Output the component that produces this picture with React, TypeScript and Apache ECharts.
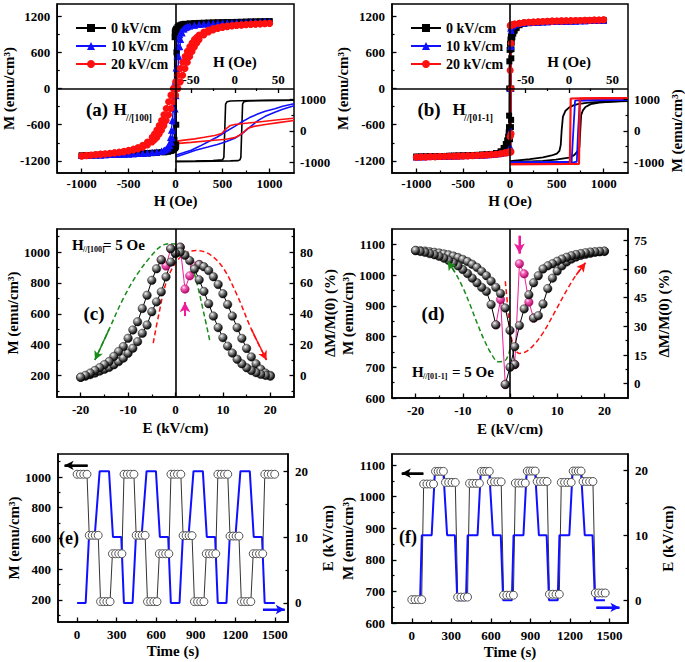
import React, { useEffect, useRef } from 'react';
import * as echarts from 'echarts';

const FONT = '"Liberation Serif", "Times New Roman", Times, serif';

// ---------------- (a) main loops: [H (Oe), M (emu/cm3)] ----------------
const aBlackUp = [[-1000,-1110],[-950,-1106],[-900,-1102],[-850,-1099],[-800,-1096],[-750,-1093],[-700,-1090],[-650,-1088],[-600,-1085],[-550,-1083],[-500,-1080],[-450,-1078],[-400,-1075],[-350,-1072],[-300,-1069],[-250,-1065],[-200,-1060],[-150,-1054],[-100,-1046],[-70,-1038],[-40,-1025],[-20,-1010],[-5,-990],[4,-965],[6,-930],[7,-600],[8,0],[9,600],[10.5,930],[15,985],[25,1025],[40,1045],[60,1058],[80,1066],[100,1072],[150,1079],[200,1084],[250,1087],[300,1090],[350,1092],[400,1094],[450,1096],[500,1098],[550,1100],[600,1102],[650,1104],[700,1105],[750,1107],[800,1109],[850,1110],[900,1112],[950,1113],[1000,1115]];
const aBlackDown = [[1000,1115],[950,1113],[900,1111],[850,1109],[800,1107],[750,1105],[700,1103],[650,1101],[600,1099],[550,1097],[500,1095],[450,1093],[400,1090],[350,1088],[300,1085],[250,1082],[200,1078],[150,1072],[100,1064],[70,1055],[40,1040],[20,1020],[5,990],[-5,962],[-9,930],[-10.5,850],[-11.5,0],[-12.5,-850],[-14,-940],[-20,-990],[-30,-1020],[-50,-1035],[-80,-1048],[-120,-1058],[-200,-1068],[-250,-1072],[-300,-1076],[-350,-1080],[-400,-1083],[-450,-1086],[-500,-1089],[-550,-1092],[-600,-1094],[-650,-1097],[-700,-1099],[-750,-1101],[-800,-1103],[-850,-1105],[-900,-1107],[-950,-1109],[-1000,-1110]];
const aBlueUp = [[-1000,-1110],[-950,-1108],[-900,-1105],[-850,-1103],[-800,-1100],[-750,-1098],[-700,-1095],[-650,-1093],[-600,-1090],[-550,-1088],[-500,-1085],[-450,-1082],[-400,-1078],[-350,-1073],[-300,-1068],[-250,-1060],[-200,-1050],[-150,-1035],[-120,-1020],[-100,-1005],[-80,-985],[-60,-950],[-45,-890],[-35,-820],[-25,-700],[-15,-540],[-5,-340],[5,-120],[15,110],[25,330],[35,530],[45,690],[55,810],[70,920],[90,985],[110,1015],[130,1030],[150,1040],[200,1053],[250,1062],[300,1068],[350,1073],[400,1077],[450,1081],[500,1084],[550,1087],[600,1090],[650,1093],[700,1095],[750,1098],[800,1100],[850,1103],[900,1105],[950,1108],[1000,1110]];
const aBlueDown = [[1000,1110],[950,1108],[900,1105],[850,1103],[800,1100],[750,1098],[700,1095],[650,1093],[600,1090],[550,1088],[500,1085],[450,1082],[400,1078],[350,1073],[300,1068],[250,1060],[200,1050],[150,1035],[120,1020],[100,1005],[80,985],[60,950],[45,890],[35,820],[25,700],[15,540],[5,340],[-5,120],[-15,-110],[-25,-330],[-35,-530],[-45,-690],[-55,-810],[-70,-920],[-90,-985],[-110,-1015],[-130,-1030],[-150,-1040],[-200,-1053],[-250,-1062],[-300,-1068],[-350,-1073],[-400,-1077],[-450,-1081],[-500,-1084],[-550,-1087],[-600,-1090],[-650,-1093],[-700,-1095],[-750,-1098],[-800,-1100],[-850,-1103],[-900,-1105],[-950,-1108],[-1000,-1110]];
const aRedUp = [[-1000,-1120],[-950,-1112],[-900,-1105],[-850,-1098],[-800,-1092],[-750,-1085],[-700,-1078],[-650,-1070],[-600,-1060],[-550,-1050],[-500,-1037],[-450,-1020],[-400,-1000],[-350,-972],[-300,-935],[-250,-885],[-225,-850],[-200,-810],[-175,-755],[-150,-690],[-125,-615],[-100,-530],[-75,-435],[-50,-330],[-25,-220],[0,-110],[25,0],[50,110],[75,220],[100,330],[125,435],[150,530],[175,615],[200,690],[225,755],[250,810],[300,885],[350,935],[400,970],[450,995],[500,1012],[550,1025],[600,1035],[650,1043],[700,1050],[750,1056],[800,1061],[850,1066],[900,1070],[950,1074],[1000,1078]];
const aRedDown = [[1000,1082],[950,1078],[900,1074],[850,1070],[800,1066],[750,1061],[700,1056],[650,1050],[600,1043],[550,1035],[500,1025],[450,1012],[400,995],[350,970],[300,935],[250,885],[225,850],[200,810],[175,755],[150,690],[125,615],[100,530],[75,435],[50,330],[25,220],[0,110],[-25,0],[-50,-110],[-75,-220],[-100,-330],[-125,-435],[-150,-530],[-175,-615],[-200,-690],[-225,-755],[-250,-810],[-300,-885],[-350,-940],[-400,-978],[-450,-1005],[-500,-1025],[-550,-1040],[-600,-1052],[-650,-1063],[-700,-1072],[-750,-1080],[-800,-1087],[-850,-1094],[-900,-1101],[-950,-1108],[-1000,-1115]];

// ---------------- (a) inset loops ----------------
const iaBlackDown = [[68,975],[40,970],[20,965],[5,958],[-5,950],[-9,925],[-10.5,850],[-11.5,0],[-12.5,-850],[-14,-930],[-25,-955],[-45,-965],[-68,-975]];
const iaBlackUp = [[-68,-985],[-45,-978],[-25,-970],[-5,-962],[4,-955],[6,-925],[7,-850],[8,0],[9,850],[10.5,930],[15,955],[35,965],[68,975]];
const iaBlueDown = [[68,860],[55,780],[46,700],[35,620],[27,540],[17,420],[8,280],[0,140],[-11,-40],[-20,-200],[-31,-360],[-40,-490],[-50,-620],[-60,-710],[-68,-780]];
const iaBlueUp = [[-68,-840],[-55,-720],[-45,-620],[-31,-520],[-20,-440],[-11,-360],[0,-240],[8,-100],[17,110],[27,330],[35,460],[46,590],[55,690],[68,800]];
const iaRedDown = [[68,400],[50,350],[30,290],[10,230],[0,200],[-5,170],[-10,60],[-15,-90],[-23,-150],[-35,-210],[-46,-260],[-58,-300],[-68,-340]];
const iaRedUp = [[-68,-410],[-50,-370],[-30,-320],[-10,-270],[0,-220],[5,-150],[10,-50],[15,80],[22,140],[35,200],[50,260],[68,330]];

// ---------------- (b) main loops ----------------
const bBlackUp = [[-1000,-1130],[-950,-1128],[-900,-1126],[-850,-1124],[-800,-1122],[-750,-1120],[-700,-1118],[-650,-1116],[-600,-1114],[-550,-1112],[-500,-1110],[-450,-1107],[-400,-1104],[-350,-1101],[-300,-1097],[-250,-1092],[-200,-1086],[-150,-1077],[-100,-1060],[-68,-1030],[-40,-990],[-20,-940],[0,-840],[6,-760],[10,-640],[12,-520],[13,0],[14,500],[16,650],[19,760],[25,850],[35,910],[50,960],[70,1010],[100,1050],[150,1072],[200,1083],[250,1090],[300,1095],[350,1099],[400,1102],[450,1105],[500,1108],[550,1110],[600,1112],[650,1114],[700,1116],[750,1118],[800,1120],[850,1122],[900,1124],[950,1126],[1000,1128]];
const bBlackDown = [[1000,1128],[950,1126],[900,1124],[850,1122],[800,1120],[750,1118],[700,1116],[650,1114],[600,1112],[550,1110],[500,1108],[450,1105],[400,1102],[350,1099],[300,1095],[250,1090],[200,1083],[150,1072],[100,1050],[68,1000],[40,950],[20,900],[10,860],[5,810],[0,740],[-4,640],[-7,450],[-8.5,0],[-9.5,-450],[-11,-640],[-14,-730],[-20,-800],[-30,-860],[-45,-920],[-68,-985],[-100,-1040],[-150,-1070],[-200,-1084],[-250,-1091],[-300,-1096],[-350,-1100],[-400,-1104],[-450,-1107],[-500,-1110],[-550,-1112],[-600,-1114],[-650,-1116],[-700,-1118],[-750,-1120],[-800,-1122],[-850,-1124],[-900,-1126],[-950,-1128],[-1000,-1130]];
const bBlueUp = [[-1000,-1132],[-950,-1130],[-900,-1128],[-850,-1126],[-800,-1124],[-750,-1122],[-700,-1120],[-650,-1118],[-600,-1116],[-550,-1114],[-500,-1112],[-450,-1110],[-400,-1107],[-350,-1104],[-300,-1100],[-250,-1096],[-200,-1090],[-150,-1082],[-100,-1070],[-60,-1055],[-30,-1040],[0,-1015],[6,-1000],[9,-700],[10.5,0],[12,700],[13,960],[20,1030],[35,1050],[60,1062],[100,1075],[150,1085],[200,1092],[250,1097],[300,1101],[350,1104],[400,1107],[450,1110],[500,1112],[550,1114],[600,1116],[650,1118],[700,1120],[750,1122],[800,1124],[850,1126],[900,1128],[950,1130],[1000,1132]];
const bBlueDown = [[1000,1132],[950,1130],[900,1128],[850,1126],[800,1124],[750,1122],[700,1120],[650,1118],[600,1116],[550,1114],[500,1112],[450,1110],[400,1107],[350,1104],[300,1101],[250,1097],[200,1092],[150,1085],[100,1075],[60,1062],[30,1048],[10,1030],[7,1000],[6,700],[4.5,0],[3,-700],[2,-960],[-10,-1035],[-30,-1052],[-60,-1063],[-100,-1075],[-150,-1085],[-200,-1092],[-250,-1098],[-300,-1102],[-350,-1106],[-400,-1109],[-450,-1112],[-500,-1114],[-550,-1116],[-600,-1118],[-650,-1120],[-700,-1122],[-750,-1124],[-800,-1126],[-850,-1128],[-900,-1130],[-950,-1132],[-1000,-1134]];
const bRedUp = [[-1000,-1138],[-950,-1136],[-900,-1134],[-850,-1132],[-800,-1130],[-750,-1128],[-700,-1126],[-650,-1124],[-600,-1122],[-550,-1120],[-500,-1117],[-450,-1114],[-400,-1111],[-350,-1108],[-300,-1104],[-250,-1100],[-200,-1095],[-150,-1088],[-100,-1080],[-60,-1070],[-30,-1062],[0,-1055],[11,-1050],[11.5,-750],[12,0],[12.5,750],[13,1040],[25,1055],[50,1068],[100,1082],[150,1092],[200,1098],[250,1103],[300,1107],[350,1110],[400,1113],[450,1116],[500,1118],[550,1120],[600,1122],[650,1124],[700,1126],[750,1128],[800,1130],[850,1132],[900,1134],[950,1136],[1000,1138]];
const bRedDown = [[1000,1138],[950,1136],[900,1134],[850,1132],[800,1130],[750,1128],[700,1126],[650,1124],[600,1122],[550,1120],[500,1118],[450,1116],[400,1113],[350,1110],[300,1107],[250,1103],[200,1098],[150,1092],[100,1082],[50,1068],[20,1055],[5,1048],[2,1040],[1.5,300],[1,-800],[0,-1040],[-20,-1055],[-50,-1066],[-100,-1080],[-150,-1090],[-200,-1097],[-250,-1102],[-300,-1106],[-350,-1110],[-400,-1113],[-450,-1116],[-500,-1118],[-550,-1120],[-600,-1122],[-650,-1124],[-700,-1126],[-750,-1128],[-800,-1130],[-850,-1132],[-900,-1134],[-950,-1136],[-1000,-1138]];

// ---------------- (b) inset loops ----------------
const ibBlackDown = [[68,950],[50,935],[30,915],[20,890],[10,850],[5,810],[0,740],[-4,640],[-7,450],[-8.5,0],[-9.5,-450],[-11,-640],[-14,-730],[-20,-790],[-30,-850],[-45,-910],[-68,-970]];
const ibBlackUp = [[-68,-1000],[-50,-985],[-30,-960],[-15,-925],[0,-860],[6,-780],[10,-650],[12,-520],[13,0],[14,500],[16,650],[19,760],[25,850],[35,900],[50,935],[68,960]];
const ibBlueDown = [[68,985],[30,978],[10,972],[7,965],[5,0],[3,-990],[-68,-1008]];
const ibBlueUp = [[-68,-1008],[6,-1000],[9,-990],[10.5,0],[12.5,965],[30,975],[68,985]];
const ibRedDown = [[68,1045],[40,1040],[15,1035],[2,1030],[1.5,0],[1,-1060],[-68,-1065]];
const ibRedUp = [[-68,-1065],[0,-1062],[11.5,-1060],[12,0],[12.5,1030],[30,1038],[68,1045]];

// ---------------- (c) M vs E: [E (kV/cm), M] ----------------
const cUpA = [[-20,188],[-19,195],[-18,205],[-17,215],[-16,228],[-15,240],[-14,252],[-13,269],[-12,290],[-11,312],[-10,344],[-9,376],[-8,419],[-7,473],[-6,527],[-5,613],[-4,677],[-3,742],[-2,839],[-1,935],[0,990],[1,1032]];
const cUpPink = [[1,1032],[2,760],[3,846],[4,910],[5,919]];
const cUpB = [[5,919],[6,905],[7,880],[8,840],[9,790],[10,730],[11,660],[12,585],[13,510],[14,440],[15,375],[16,320],[17,275],[18,240],[19,215],[20,200]];
const cDownA = [[20,195],[19,200],[18,207],[17,218],[16,232],[15,250],[14,275],[13,305],[12,345],[11,390],[10,445],[9,510],[8,585],[7,665],[6,745],[5,820],[4,890],[3,945],[2,980],[1,1000],[0,995],[-1,1022]];
const cDownPink = [[-1,1022],[-2,910],[-3,950]];
const cDownB = [[-3,950],[-4,892],[-5,817],[-6,720],[-7,634],[-8,548],[-9,495],[-10,441],[-11,387],[-12,355],[-13,323],[-14,290],[-15,270],[-16,250],[-17,232],[-18,215],[-19,200],[-20,188]];
const cGreenArrow = [[7.2,430],[6,600],[4.5,800],[3,950],[1,1040],[-1,1055],[-3,1040],[-5,980],[-8,860],[-11,700],[-14,500],[-17,300]];
const cRedArrow = [[-4.7,410],[-3.5,600],[-2,800],[0,930],[2,990],[4.3,1010],[7,990],[10,900],[13,720],[16,500],[19.2,300]];
const cPinkArrow = [[2,585],[2,675]];

// ---------------- (d) M vs E ----------------
const dUpA = [[-20,1080],[-19,1079],[-18,1078],[-17,1076],[-16,1074],[-15,1072],[-14,1069],[-13,1066],[-12,1062],[-11,1057],[-10,1051],[-9,1044],[-8,1035],[-7,1025],[-6,1012],[-5,998],[-4,980],[-3,960],[-2,940],[-1,893],[0,820],[1,709]];
const dUpPink = [[1,709],[2,1037],[3,1004],[4,912],[5,860]];
const dUpB = [[5,860],[6,868],[7,906],[8,956],[9,990],[10,1013],[11,1030],[12,1043],[13,1052],[14,1059],[15,1064],[16,1068],[17,1071],[18,1074],[19,1076],[20,1077]];
const dDownA = [[20,1078],[19,1077],[18,1076],[17,1075],[16,1073],[15,1070],[14,1067],[13,1063],[12,1058],[11,1052],[10,1045],[9,1037],[8,1030],[7,1020],[6,998],[5,975],[4,936],[3,890],[2,836],[1,767],[0,700],[-1,644]];
const dDownPink = [[-1,644],[-2,920],[-3,838]];
const dDownB = [[-3,838],[-4,904],[-5,947],[-6,960],[-7,975],[-8,990],[-9,1005],[-10,1018],[-11,1030],[-12,1040],[-13,1048],[-14,1055],[-15,1061],[-16,1066],[-17,1070],[-18,1074],[-19,1077],[-20,1080]];
const dGreenArrow = [[0,760],[-1,722],[-2.5,718],[-4,745],[-5.5,790],[-7,845],[-8.5,905],[-10,960],[-11.7,1010],[-13.2,1045]];
const dRedArrow = [[-1,980],[-0.5,900],[0,820],[1,760],[2,745],[3.3,750],[5,772],[7,812],[9.5,880],[12,950],[14,1000],[16,1040]];
const dPinkArrow = [[2,1128],[2,1070]];

// ---------------- (e) time series: [t (s), M] and [t (s), E] ----------------
const eM = [[0,1018],[25,1018],[50,1018],[75,1018],[92,620],[115,620],[138,620],[160,620],[178,188],[202,188],[226,188],[250,188],[268,500],[292,500],[316,500],[340,500],
  [356,1018],[381,1018],[406,1018],[431,1018],[448,620],[471,620],[494,620],[516,620],[534,188],[558,188],[582,188],[606,188],[624,500],[648,500],[672,500],[696,500],
  [712,1018],[737,1018],[762,1018],[787,1018],[804,618],[827,618],[850,618],[872,618],[890,188],[914,188],[938,188],[962,188],[980,500],[1004,500],[1028,500],[1052,500],
  [1068,1018],[1093,1018],[1118,1018],[1143,1018],[1160,615],[1183,615],[1206,615],[1228,615],[1246,188],[1270,188],[1294,188],[1318,188],[1336,500],[1360,500],[1384,500],[1408,500],
  [1424,1018],[1449,1018],[1474,1018],[1499,1018]];
const eE = [[0,0],[65,0],[90,10],[133,10],[171,20],[242,20],[272,10],[335,10],[355,0],
  [421,0],[446,10],[489,10],[527,20],[598,20],[628,10],[691,10],[711,0],
  [777,0],[802,10],[845,10],[883,20],[954,20],[984,10],[1047,10],[1067,0],
  [1133,0],[1158,10],[1201,10],[1239,20],[1310,20],[1340,10],[1403,10],[1423,0],[1500,0]];
const eMArrow = [[80,1076],[-95,1076]];
const eEArrow = [[1410,-1],[1575,-1]];

// ---------------- (f) time series ----------------
const fM = [[0,674],[25,674],[50,674],[75,674],[90,1040],[115,1040],[140,1040],[165,1040],[180,1080],[200,1080],[220,1080],[240,1080],[255,1045],[280,1045],[305,1045],[330,1045],
  [348,682],[373,682],[398,682],[423,682],[438,1042],[463,1042],[488,1042],[513,1042],[528,1080],[548,1080],[568,1080],[588,1080],[603,1047],[628,1047],[653,1047],[678,1047],
  [696,688],[721,688],[746,688],[771,688],[786,1043],[811,1043],[836,1043],[861,1043],[876,1081],[896,1081],[916,1081],[936,1081],[951,1048],[976,1048],[1001,1048],[1026,1048],
  [1044,691],[1069,691],[1094,691],[1119,691],[1134,1045],[1159,1045],[1184,1045],[1209,1045],[1224,1081],[1244,1081],[1264,1081],[1284,1081],[1299,1048],[1324,1048],[1349,1048],[1374,1048],
  [1392,695],[1417,695],[1442,695],[1467,695]];
const fE = [[0,0],[63,0],[76,10],[151,10],[176,20],[239,20],[268,10],[327,10],[345,0],
  [411,0],[424,10],[499,10],[524,20],[587,20],[616,10],[675,10],[693,0],
  [759,0],[772,10],[847,10],[872,20],[935,20],[964,10],[1023,10],[1041,0],
  [1107,0],[1120,10],[1195,10],[1220,20],[1283,20],[1312,10],[1371,10],[1389,0],[1465,0]];
const fMArrow = [[88,1074],[-76,1074]];
const fEArrow = [[1400,-1.1],[1575,-1.1]];

// ---------------- tick values ----------------
const hMajor = [-1000, -500, 0, 500, 1000];
const hMinor = [-750, -250, 250, 750];
const mMajorAB = [-1200, -600, 0, 600, 1200];
const mMinorAB = [-900, -300, 300, 900];
const insetHMajor = [-50, 0, 50];
const insetHMinor = [-25, 25];
const insetMMajor = [-1000, 0, 1000];
const insetMMinor = [-500, 500];
const eFieldMajor = [-20, -10, 0, 10, 20];
const eFieldMinor = [-15, -5, 5, 15];
const cMMajor = [200, 400, 600, 800, 1000];
const cMMinor = [100, 300, 500, 700, 900, 1100];
const cRMajor = [0, 20, 40, 60, 80];
const cRMinor = [-10, 10, 30, 50, 70, 90];
const dMMajor = [600, 700, 800, 900, 1000, 1100];
const dMMinor = [650, 750, 850, 950, 1050];
const dRMajor = [0, 15, 30, 45, 60, 75];
const dRMinor = [7.5, 22.5, 37.5, 52.5, 67.5];
const tMajor = [0, 300, 600, 900, 1200, 1500];
const tMinor = [150, 450, 750, 1050, 1350];
const eMMajor = [200, 400, 600, 800, 1000];
const eMMinor = [100, 300, 500, 700, 900, 1100];
const fMMajor = [600, 700, 800, 900, 1000, 1100];
const fMMinor = [650, 750, 850, 950, 1050];
const eRMajor = [0, 10, 20];
const eRMinor = [5, 15];

const legendNames = ['0 kV/cm', '10 kV/cm', '20 kV/cm'];

function buildOption() {
  const xAxis: any[] = [];
  const yAxis: any[] = [];
  const nameStyle = { color: '#000', fontFamily: FONT, fontWeight: 'bold', fontSize: 15 };
  function add(list: any[], c: any) {
    const idx = list.length;
    list.push({
      type: 'value', gridIndex: c.grid, position: c.position, min: c.min, max: c.max,
      axisLine: { show: c.line !== false, onZero: false, lineStyle: { color: '#000', width: 1.5 } },
      axisTick: { show: true, inside: true, length: 4.5, customValues: c.major, lineStyle: { color: '#000', width: 1.3 } },
      axisLabel: { show: true, customValues: c.major, margin: c.margin, formatter: (v: number) => String(v),
        color: '#000', fontFamily: FONT, fontWeight: 'bold', fontSize: 13 },
      splitLine: { show: false },
      name: c.name, nameLocation: 'middle', nameGap: c.nameGap, nameRotate: c.nameRotate,
      nameTextStyle: nameStyle, z: 5,
    });
    list.push({
      type: 'value', gridIndex: c.grid, position: c.position, min: c.min, max: c.max,
      axisLine: { show: false, onZero: false },
      axisTick: { show: true, inside: true, length: 2.5, customValues: c.minor, lineStyle: { color: '#000', width: 1.2 } },
      axisLabel: { show: false }, splitLine: { show: false }, z: 5,
    });
    return idx;
  }
  const MNAME = 'M (emu/cm³)';
  // (a)
  const ax = add(xAxis, { grid: 0, position: 'bottom', min: -1260, max: 1260, major: hMajor, minor: hMinor, margin: 4, name: 'H (Oe)', nameGap: 20 });
  const ay = add(yAxis, { grid: 0, position: 'left', min: -1400, max: 1400, major: mMajorAB, minor: mMinorAB, margin: 7, name: MNAME, nameGap: 35, nameRotate: 90 });
  const aix = add(xAxis, { grid: 1, position: 'top', min: -68, max: 68, major: insetHMajor, minor: insetHMinor, margin: 3, line: false, name: 'H (Oe)', nameGap: 19 });
  const aiy = add(yAxis, { grid: 1, position: 'right', min: -1350, max: 1350, major: insetMMajor, minor: insetMMinor, margin: 6, line: false });
  // (b)
  const bx = add(xAxis, { grid: 2, position: 'bottom', min: -1260, max: 1260, major: hMajor, minor: hMinor, margin: 4, name: 'H (Oe)', nameGap: 20 });
  const by = add(yAxis, { grid: 2, position: 'left', min: -1400, max: 1400, major: mMajorAB, minor: mMinorAB, margin: 7, name: MNAME, nameGap: 35, nameRotate: 90 });
  const bix = add(xAxis, { grid: 3, position: 'top', min: -68, max: 68, major: insetHMajor, minor: insetHMinor, margin: 3, line: false, name: 'H (Oe)', nameGap: 19 });
  const biy = add(yAxis, { grid: 3, position: 'right', min: -1350, max: 1350, major: insetMMajor, minor: insetMMinor, margin: 6, line: false, name: MNAME, nameGap: 41, nameRotate: 90 });
  // (c)
  const cx = add(xAxis, { grid: 4, position: 'bottom', min: -25, max: 25, major: eFieldMajor, minor: eFieldMinor, margin: 6, name: 'E (kV/cm)', nameGap: 23 });
  const cy = add(yAxis, { grid: 4, position: 'left', min: 60, max: 1150, major: cMMajor, minor: cMMinor, margin: 7, name: MNAME, nameGap: 35, nameRotate: 90 });
  const cyr = add(yAxis, { grid: 4, position: 'right', min: -14, max: 95, major: cRMajor, minor: cRMinor, margin: 6, name: 'ΔM/M(0) (%)', nameGap: 28, nameRotate: 90 });
  // (d)
  const dx = add(xAxis, { grid: 5, position: 'bottom', min: -25, max: 25, major: eFieldMajor, minor: eFieldMinor, margin: 6, name: 'E (kV/cm)', nameGap: 23 });
  const dy = add(yAxis, { grid: 5, position: 'left', min: 600, max: 1150, major: dMMajor, minor: dMMinor, margin: 7, name: MNAME, nameGap: 35, nameRotate: 90 });
  const dyr = add(yAxis, { grid: 5, position: 'right', min: -7.5, max: 81, major: dRMajor, minor: dRMinor, margin: 6, name: 'ΔM/M(0) (%)', nameGap: 28, nameRotate: 90 });
  // (e)
  const ex = add(xAxis, { grid: 6, position: 'bottom', min: -145, max: 1600, major: tMajor, minor: tMinor, margin: 6, name: 'Time (s)', nameGap: 21 });
  const ey = add(yAxis, { grid: 6, position: 'left', min: 55, max: 1150, major: eMMajor, minor: eMMinor, margin: 7, name: MNAME, nameGap: 35, nameRotate: 90 });
  const eyr = add(yAxis, { grid: 6, position: 'right', min: -2.9, max: 22.6, major: eRMajor, minor: eRMinor, margin: 7, name: 'E (kV/cm)', nameGap: 32, nameRotate: 90 });
  // (f)
  const fx = add(xAxis, { grid: 7, position: 'bottom', min: -150, max: 1640, major: tMajor, minor: tMinor, margin: 6, name: 'Time (s)', nameGap: 21 });
  const fy = add(yAxis, { grid: 7, position: 'left', min: 600, max: 1135, major: fMMajor, minor: fMMinor, margin: 7, name: MNAME, nameGap: 35, nameRotate: 90 });
  const fyr = add(yAxis, { grid: 7, position: 'right', min: -3.5, max: 22.5, major: eRMajor, minor: eRMinor, margin: 7, name: 'E (kV/cm)', nameGap: 32, nameRotate: 90 });

  const BLUE = '#1010ff', RED = '#ff1010', PINK = '#ee1c9a', GREEN = '#1b8a1b';
  const sphere = new echarts.graphic.RadialGradient(0.35, 0.3, 0.75, [
    { offset: 0, color: '#f6f6f6' }, { offset: 0.3, color: '#9a9a9a' }, { offset: 0.75, color: '#262626' }, { offset: 1, color: '#000' }]);
  const pinkSphere = new echarts.graphic.RadialGradient(0.35, 0.3, 0.75, [
    { offset: 0, color: '#ffe0f2' }, { offset: 0.35, color: '#f25cb5' }, { offset: 1, color: '#a8005e' }]);

  const zeroLines = (items: any[]) => ({
    silent: true, symbol: 'none', label: { show: false }, emphasis: { disabled: true },
    lineStyle: { color: '#000', width: 1.6, type: 'solid' }, data: items,
  });
  const base = (xi: number, yi: number, data: any[], extra: any) => ({
    type: 'line', xAxisIndex: xi, yAxisIndex: yi, data, animation: false, silent: true,
    showAllSymbol: true, emphasis: { disabled: true }, ...extra,
  });
  const loopS = (name: string, xi: number, yi: number, data: any[], color: string, symbol: string, size: number, extra: any = {}) =>
    base(xi, yi, data, { name, symbol, symbolSize: size, itemStyle: { color }, lineStyle: { color, width: 1.3 }, ...extra });
  const plain = (name: string, xi: number, yi: number, data: any[], color: string, width: number) =>
    base(xi, yi, data, { name, symbol: 'none', lineStyle: { color, width } });
  const sphereS = (name: string, xi: number, yi: number, data: any[], pink: boolean, extra: any = {}) =>
    base(xi, yi, data, { name, symbol: 'circle', symbolSize: 8.5,
      itemStyle: { color: pink ? pinkSphere : sphere, borderColor: pink ? '#a0005a' : '#000', borderWidth: 0.4 },
      lineStyle: { color: pink ? PINK : '#000', width: 1 }, ...extra });
  const arrowS = (name: string, xi: number, yi: number, pts: number[][], color: string, dashed: boolean, width: number, size: number[]) =>
    base(xi, yi, pts, { name, symbol: 'none', smooth: dashed ? 0.35 : false,
      lineStyle: { color, width, type: dashed ? [5, 3] : 'solid' },
      markLine: { silent: true, symbol: ['none', 'arrow'], symbolSize: size, label: { show: false }, emphasis: { disabled: true },
        lineStyle: { color, width, type: 'solid' },
        data: [[{ coord: pts[pts.length - 2] }, { coord: pts[pts.length - 1] }]] } });

  const series: any[] = [
    // (a)
    loopS('0 kV/cm', ax, ay, aBlackUp.concat(aBlackDown), '#000', 'rect', 6, { markLine: zeroLines([{ xAxis: 0 }, { yAxis: 0 }]) }),
    loopS('10 kV/cm', ax, ay, aBlueUp.concat(aBlueDown), BLUE, 'triangle', 7),
    loopS('20 kV/cm', ax, ay, aRedUp.concat(aRedDown), RED, 'circle', 7),
    plain('ia0d', aix, aiy, iaBlackDown, '#000', 1.6), plain('ia0u', aix, aiy, iaBlackUp, '#000', 1.6),
    plain('ia1d', aix, aiy, iaBlueDown, BLUE, 1.6), plain('ia1u', aix, aiy, iaBlueUp, BLUE, 1.6),
    plain('ia2d', aix, aiy, iaRedDown, RED, 1.6), plain('ia2u', aix, aiy, iaRedUp, RED, 1.6),
    // (b)
    loopS('0 kV/cm', bx, by, bBlackUp.concat(bBlackDown), '#000', 'rect', 6, { markLine: zeroLines([{ xAxis: 0 }, { yAxis: 0 }]) }),
    loopS('10 kV/cm', bx, by, bBlueUp.concat(bBlueDown), BLUE, 'triangle', 7),
    loopS('20 kV/cm', bx, by, bRedUp.concat(bRedDown), RED, 'circle', 7),
    plain('ib0d', bix, biy, ibBlackDown, '#000', 1.8), plain('ib0u', bix, biy, ibBlackUp, '#000', 1.8),
    plain('ib1d', bix, biy, ibBlueDown, BLUE, 1.8), plain('ib1u', bix, biy, ibBlueUp, BLUE, 1.8),
    plain('ib2d', bix, biy, ibRedDown, RED, 2.2), plain('ib2u', bix, biy, ibRedUp, RED, 2.2),
    // (c)
    arrowS('cg', cx, cy, cGreenArrow, GREEN, true, 1.5, [7, 9]),
    arrowS('cr', cx, cy, cRedArrow, RED, true, 1.5, [7, 9]),
    arrowS('cpa', cx, cy, cPinkArrow, PINK, false, 2, [8, 10]),
    sphereS('cup', cx, cy, cUpPink, true), sphereS('cdp', cx, cy, cDownPink, true),
    sphereS('cua', cx, cy, cUpA, false, { markLine: zeroLines([{ xAxis: 0 }]) }),
    sphereS('cub', cx, cy, cUpB, false), sphereS('cda', cx, cy, cDownA, false), sphereS('cdb', cx, cy, cDownB, false),
    // (d)
    arrowS('dg', dx, dy, dGreenArrow, GREEN, true, 1.5, [7, 9]),
    arrowS('dr', dx, dy, dRedArrow, RED, true, 1.5, [7, 9]),
    arrowS('dpa', dx, dy, dPinkArrow, PINK, false, 2, [8, 10]),
    sphereS('dup', dx, dy, dUpPink, true), sphereS('ddp', dx, dy, dDownPink, true),
    sphereS('dua', dx, dy, dUpA, false, { markLine: zeroLines([{ xAxis: 0 }]) }),
    sphereS('dub', dx, dy, dUpB, false), sphereS('dda', dx, dy, dDownA, false), sphereS('ddb', dx, dy, dDownB, false),
    // (e)
    base(ex, ey, eM, { name: 'eM', symbol: 'circle', symbolSize: 8, itemStyle: { color: '#fff', borderColor: '#555', borderWidth: 1 }, lineStyle: { color: '#333', width: 1 } }),
    plain('eE', ex, eyr, eE, BLUE, 2),
    arrowS('ema', ex, ey, eMArrow, '#000', false, 2, [7, 9]),
    arrowS('eea', ex, eyr, eEArrow, BLUE, false, 2, [7, 9]),
    // (f)
    base(fx, fy, fM, { name: 'fM', symbol: 'circle', symbolSize: 8, itemStyle: { color: '#fff', borderColor: '#555', borderWidth: 1 }, lineStyle: { color: '#333', width: 1 } }),
    plain('fE', fx, fyr, fE, BLUE, 2),
    arrowS('fma', fx, fy, fMArrow, '#000', false, 2, [7, 9]),
    arrowS('fea', fx, fyr, fEArrow, BLUE, false, 2, [7, 9]),
  ];

  const gridBox = { show: true, borderColor: '#000', borderWidth: 1.5, backgroundColor: 'transparent', containLabel: false };
  const grid = [
    { ...gridBox, left: 57, top: 4, width: 237, height: 169 },
    { show: false, left: 175.5, top: 88.5, width: 118.5, height: 84.5 },
    { ...gridBox, left: 392, top: 4, width: 236, height: 169 },
    { show: false, left: 510, top: 88.5, width: 118, height: 84.5 },
    { ...gridBox, left: 57, top: 229, width: 237, height: 168 },
    { ...gridBox, left: 392, top: 229, width: 236, height: 169 },
    { ...gridBox, left: 58, top: 454, width: 230, height: 168 },
    { ...gridBox, left: 392, top: 454, width: 236, height: 169 },
  ];

  const legendBase = {
    orient: 'vertical', itemWidth: 30, itemHeight: 10, itemGap: 4, selectedMode: false,
    data: legendNames, textStyle: { color: '#000', fontFamily: FONT, fontWeight: 'bold', fontSize: 14, lineHeight: 14 },
  };
  const txt = (x: number, y: number, text: string, size: number, align = 'center') => ({
    type: 'text', x, y, silent: true, z: 100,
    style: { text, fontSize: size, fontFamily: FONT, fontWeight: 'bold', fill: '#000', align, verticalAlign: 'middle' },
  });

  return {
    animation: false,
    backgroundColor: '#fff',
    grid, xAxis, yAxis, series,
    legend: [{ ...legendBase, left: 70, top: 16 }, { ...legendBase, left: 405, top: 16 }],
    graphic: [
      txt(97, 109, '(a)', 19), txt(120, 109, 'H', 17), txt(126, 118, '//[100]', 9.5, 'left'),
      txt(429, 109, '(b)', 19), txt(459, 109, 'H', 17), txt(464, 118, '//[01-1]', 9.5, 'left'),
      txt(94, 313, '(c)', 19), txt(72, 245, 'H', 15, 'left'), txt(83, 249, '//[100]', 8, 'left'), txt(103, 245, '= 5 Oe', 15, 'left'),
      txt(433, 313, '(d)', 19), txt(412, 372, 'H', 15, 'left'), txt(423, 376, '//[01-1]', 8, 'left'), txt(452, 372, '= 5 Oe', 15, 'left'),
      txt(69, 538, '(e)', 18), txt(408, 537, '(f)', 18),
    ],
  };
}

export default function App() {
  const ref = useRef<HTMLDivElement>(null);
  useEffect(() => {
    const chart = echarts.init(ref.current!, null, { renderer: 'svg' });
    chart.setOption(buildOption() as any);
    return () => chart.dispose();
  }, []);
  return <div ref={ref} style={{ position: 'absolute', left: 0, top: 0, width: 685, height: 662 }} />;
}
